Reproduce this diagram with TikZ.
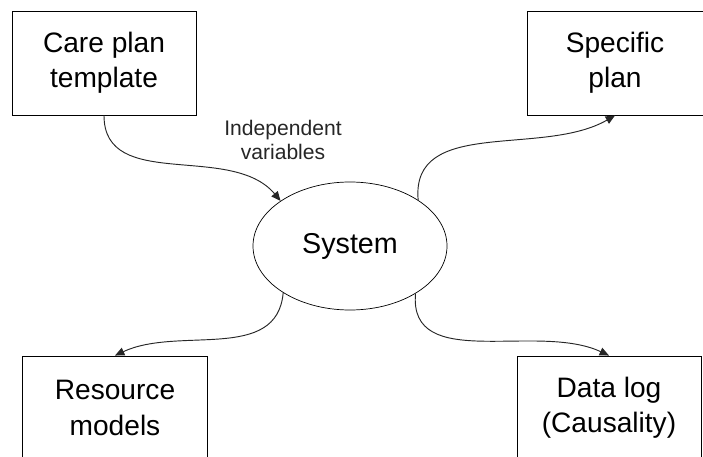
\documentclass[tikz,border=0pt]{standalone}
\usepackage{fontspec}
\setmainfont{Liberation Sans}
\usetikzlibrary{shapes.geometric,arrows.meta}
\begin{document}
\begin{tikzpicture}[
                x=0.03cm, y=-0.03cm,
                box/.style={draw, line width=0.8pt, minimum height=3.12cm, inner sep=0pt, align=center,
                    font=\fontsize{24}{30}\selectfont},
                sysnode/.style={ellipse, draw, line width=0.6pt, minimum width=5.82cm, minimum height=3.84cm,
                    inner sep=0pt, font=\fontsize{24.5}{30}\selectfont},
                flow/.style={-{Triangle[length=8pt, width=7pt]}, line width=0.8pt, black!85},
                lbl/.style={align=center, font=\fontsize{18}{21}\selectfont, text=black!85}
            ]
            \useasboundingbox (0,0) rectangle (703,457);
            \clip (0,0) rectangle (703,457);

            % Top Row
            \node[box, minimum width=5.52cm] (care) at (104,63) {Care plan\\template};
            \node[box, minimum width=5.28cm] (spec) at (615,63) {Specific\\plan};

            % Middle
            \node[sysnode] (sys) at (350,246) {System};
            \node[lbl] (ivar) at (283,140) {Independent\\variables};

            % Bottom Row
            \node[box, minimum width=5.55cm] (res) at (115,408) {Resource\\models};
            \node[box, minimum width=5.52cm] (dlog) at (609,408) {Data log\\(Causality)};

            % Arrows
            \draw[flow] (care.south) to[out=-90, in=130] (sys.147);
            \draw[flow] (sys.34) to[out=95, in=-150] (spec.south);
            \draw[flow] (sys.215) to[out=-95, in=25] (res.north);
            \draw[flow] (sys.324) to[out=-95, in=155] (dlog.north);

        \end{tikzpicture}
\end{document}
